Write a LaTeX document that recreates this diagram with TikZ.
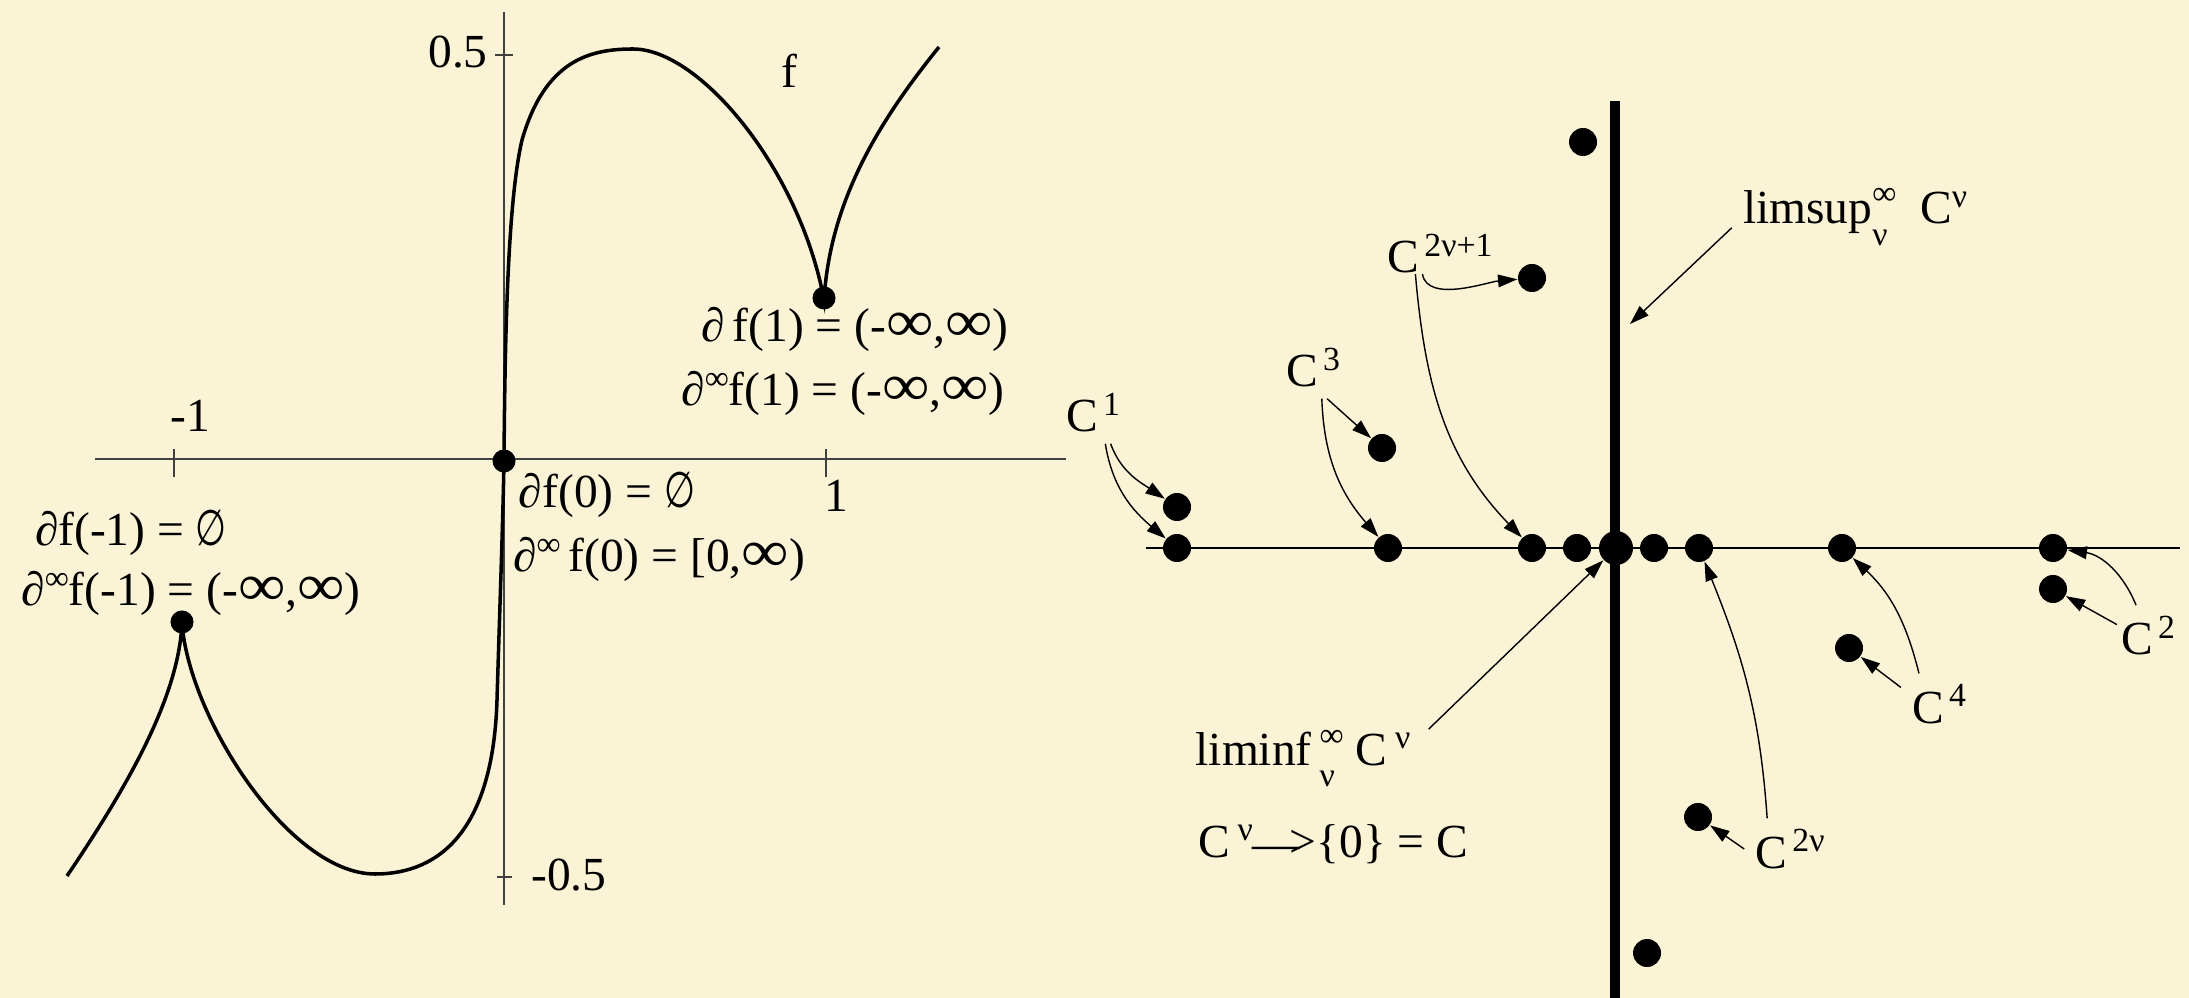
\documentclass[tikz,border=0pt]{standalone}
\usepackage{fontspec}
\setmainfont{Liberation Serif}
\newfontfamily\symf{DejaVu Sans}
\usepackage{graphicx}
\usepackage{tikz}
\usetikzlibrary{arrows.meta,positioning,calc}

\definecolor{paper}{RGB}{251,243,214}
\newcommand{\up}[1]{\raisebox{0.34em}{\fontsize{9.6}{10}\selectfont #1}}
\newcommand{\lims}[2]{\rlap{\raisebox{-0.45em}{\fontsize{9.6}{10}\selectfont #2}}\raisebox{0.4em}{\fontsize{9.6}{10}\selectfont #1}}
\newcommand{\Cs}[1]{C\kern1.5pt\up{#1}}
\newcommand{\inft}{\scalebox{1.4}[1.25]{∞}}
\newcommand{\empt}{\scalebox{0.75}[1.05]{\symf ∅}}

\begin{document}
\begin{tikzpicture}[
    x=0.01cm, y=0.01cm,
    font=\fontsize{13.5}{16}\selectfont,
    dot/.style={circle, fill, inner sep=0pt, minimum size=0.28cm},
    pdot/.style={circle, fill, inner sep=0pt, minimum size=0.23cm},
    lbl/.style={inner sep=0pt, anchor=base},
    tag/.style={inner sep=3pt, anchor=base},
    arr/.style={-{Triangle[length=5.5pt, width=3.6pt]}, line width=0.4pt},
    axis/.style={black!75, line width=0.45pt}
]
\useasboundingbox (0,0) rectangle (2189,-998);
\fill[paper] (0,0) rectangle (2189,-998);

% graph of f
\draw[axis] (95,-459) -- (1066,-459);
\draw[axis] (504,-12) -- (504,-905);
\draw[axis] (174,-449) -- (174,-477);
\draw[axis] (826,-449) -- (826,-477);
\draw[axis] (495,-55) -- (513,-55);
\draw[axis] (497,-877) -- (512,-877);
\node[lbl] (xm) at (190,-432) {-1};
\node[lbl] (xp) at (836,-512) {1};
\node[lbl] (yp) at (458,-68) {0.5};
\node[lbl] (ym) at (569,-890) {-0.5};
\node[lbl] (fname) at (789,-88) {f};

\draw[line width=1pt] (67,-876) .. controls (125,-790) and (178,-700) .. (182,-624)
  .. controls (190,-720) and (290,-874) .. (375,-874)
  .. controls (440,-874) and (493,-830) .. (497,-700)
  .. controls (500,-600) and (503,-520) .. (504,-459)
  .. controls (505,-330) and (508,-200) .. (522,-140)
  .. controls (545,-60) and (590,-49) .. (633,-49)
  .. controls (700,-49) and (800,-170) .. (824,-300)
  .. controls (830,-200) and (880,-120) .. (939,-47);
\node[pdot] (pm) at (182,-622) {};
\node[pdot] (pz) at (504,-461) {};
\node[pdot] (pp) at (824,-298) {};

\node[lbl] (dm1) at (131,-546) {∂f(-1) = \empt};
\node[lbl] (dim1) at (191,-606) {∂\up{∞}f(-1) = (-\inft,\inft)};
\node[lbl] (d0) at (607,-508) {∂f(0) = \empt};
\node[lbl] (di0) at (659,-572) {∂\up{∞}\,f(0) = [0,\inft)};
\node[lbl] (d1) at (855,-342) {∂\,f(1) = (-\inft,\inft)};
\node[lbl] (di1) at (843,-406) {∂\up{∞}f(1) = (-\inft,\inft)};

% sets C^nu
\draw[line width=0.6pt] (1146,-548) -- (2180,-548);
\draw[line width=2.9pt] (1615,-101) -- (1615,-998);
\coordinate (suptip) at (1630,-324);

\foreach \n/\x/\y in {a1/1177/548, b1/1177/507, a3/1388/548, b3/1382/448,
    a5/1532/548, b5/1532/278, e1/1577/548, e2/1654/548, a6/1699/548, b6/1698/817,
    a4/1842/548, b4/1849/648, a2/2053/548, b2/2053/589, t/1583/142, u/1647/953}
  \node[dot] (\n) at (\x,-\y) {};
\node[dot, minimum size=0.34cm] (o) at (1616,-548) {};

\node[tag] (c1) at (1093,-432) {\Cs{1}};
\node[tag] (c3) at (1313,-387) {\Cs{3}};
\node[tag] (codd) at (1440,-273) {\Cs{2ν+1}};
\node[tag] (sup) at (1855,-224) {limsup\lims{∞}{ν}~~C\up{ν}};
\node[tag] (inf) at (1303,-765) {liminf\,\lims{∞}{ν} C\,\up{ν}};
\node[tag] (conv) at (1333,-857) {C\,\up{ν}\raisebox{-0.05em}{—}\kern-3pt>\{0\} = C};
\node[tag] (c2) at (2148,-655) {\Cs{2}};
\node[tag] (c4) at (1939,-723) {\Cs{4}};
\node[tag] (ceven) at (1790,-868) {\Cs{2ν}};

\draw[arr] ([xshift=5pt]c1.south) to[out=-70, in=146] (b1);
\draw[arr] ([xshift=3.5pt]c1.south) to[out=-81, in=140] (a1);
\draw[arr] ([xshift=4pt]c3.south) -- (b3);
\draw[arr] ([xshift=2.5pt]c3.south) to[out=-88, in=131] (a3);
\draw[arr] ([xshift=-5pt, yshift=3pt]codd.south) to[out=-80, in=185, looseness=0.8] (b5);
\draw[arr] ([xshift=-7pt, yshift=3pt]codd.south) to[out=-85, in=134] (a5);
\draw[arr] ([yshift=-3pt]sup.west) -- (suptip);
\draw[arr] ([xshift=2pt, yshift=-3pt]inf.north east) -- (o);
\draw[arr] ([xshift=-6.5pt]ceven.north) to[out=94, in=-68] (a6);
\draw[arr] (ceven.west) -- (b6);
\draw[arr] ([xshift=-5.7pt]c4.north) to[out=104, in=-43] (a4);
\draw[arr] ([yshift=-4pt]c4.north west) -- (b4);
\draw[arr] ([xshift=-3.4pt]c2.north) to[out=112, in=-8] (a2);
\draw[arr] ([xshift=2pt, yshift=-5.5pt]c2.north west) -- (b2);
\end{tikzpicture}
\end{document}
